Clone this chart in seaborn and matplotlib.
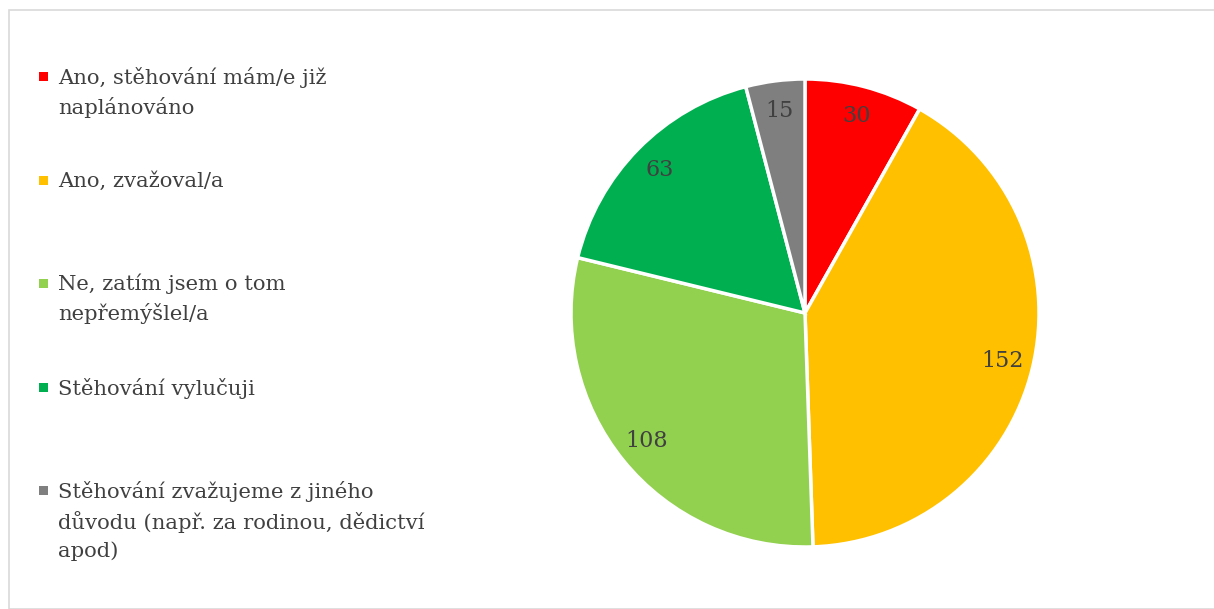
import matplotlib
matplotlib.use("Agg")
import matplotlib.pyplot as plt
import seaborn as sns
from matplotlib.patches import Rectangle

# Data
labels = [
    "Ano, stěhování mám/e již\nnaplánováno",
    "Ano, zvažoval/a",
    "Ne, zatím jsem o tom\nnepřemýšlel/a",
    "Stěhování vylučuji",
    "Stěhování zvažujeme z jiného\ndůvodu (např. za rodinou, dědictví\napod)",
]
counts = [30, 152, 108, 63, 15]
colors = ["#FF0000", "#FFC000", "#92D050", "#00B050", "#7F7F7F"]

sns.set_theme(style="white")
plt.rcParams["font.family"] = ["DejaVu Serif"]
text_col = "#404040"

W, H = 1214, 609
fig = plt.figure(figsize=(W / 100, H / 100), dpi=100)

# light frame like the Excel chart area
fig.patches.append(Rectangle((9 / W, 0), 1.0, (H - 10) / H, transform=fig.transFigure,
                             fill=False, edgecolor="#d9d9d9", linewidth=1.2))

# pie
cx, cy, r = 805, 313, 234
ax = fig.add_axes([(cx - r) / W, (H - cy - r) / H, 2 * r / W, 2 * r / H])
total = sum(counts)
wedges, texts, autotexts = ax.pie(
    counts, colors=colors, startangle=90, counterclock=False,
    autopct=lambda p: f"{round(p * total / 100):d}", pctdistance=0.87,
    wedgeprops=dict(edgecolor="white", linewidth=2.5),
    textprops=dict(color=text_col, fontsize=16),
)
ax.set_xlim(-1, 1)
ax.set_ylim(-1, 1)
ax.set_aspect("equal")
ax.axis("off")

# legend drawn by hand, entries spaced evenly from the top like Excel does
tops = [76, 180, 283, 387, 490]
for lab, col, top in zip(labels, colors, tops):
    fig.patches.append(Rectangle((39 / W, 1 - (top + 5) / H), 9 / W, 9 / H,
                                 transform=fig.transFigure, facecolor=col, edgecolor="none"))
    fig.text(58 / W, 1 - (top - 9) / H, lab, ha="left", va="top", fontsize=15.2,
             color=text_col, linespacing=1.5)

fig.savefig("out.png", dpi=100)
